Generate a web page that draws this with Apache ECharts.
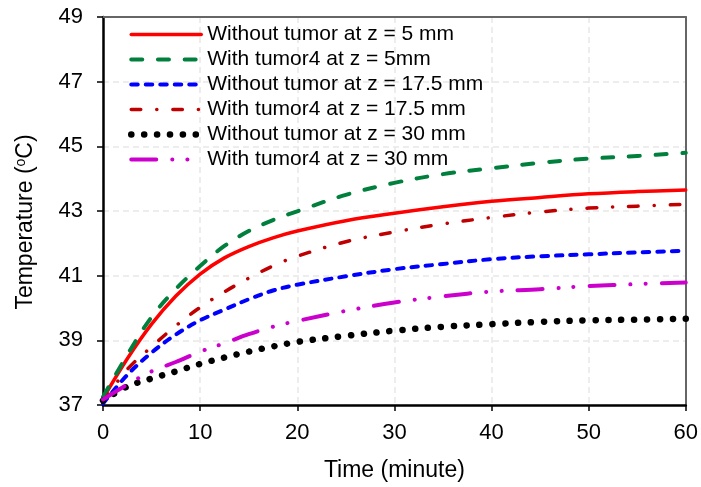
<!DOCTYPE html>
<html>
<head>
<meta charset="utf-8">
<script src="https://cdn.jsdelivr.net/npm/echarts@6/dist/echarts.min.js"></script>
<style>html,body{margin:0;padding:0;background:#fff;}#chart{width:701px;height:487px;}</style>
</head>
<body>
<div id="chart"></div>
<script>
var times = [0, 2.5, 5, 7.5, 10, 12.5, 15, 17.5, 20, 25, 30, 35, 40, 45, 50, 55, 60];
var seriesNames = [
  'Without tumor at z = 5 mm',
  'With tumor4 at z = 5mm',
  'Without tumor at z = 17.5 mm',
  'With tumor4 at z = 17.5 mm',
  'Without tumor at z = 30 mm',
  'With tumor4 at z = 30 mm'
];
var noTumor5 =   [37.2, 38.43, 39.5, 40.37, 41.05, 41.55, 41.9, 42.17, 42.38, 42.7, 42.93, 43.13, 43.3, 43.42, 43.53, 43.6, 43.65];
var tumor5 =     [37.25, 38.55, 39.72, 40.59, 41.3, 41.92, 42.38, 42.72, 42.99, 43.5, 43.87, 44.14, 44.32, 44.49, 44.62, 44.7, 44.8];
var noTumor175 = [37.05, 37.93, 38.62, 39.18, 39.62, 39.95, 40.27, 40.54, 40.72, 40.98, 41.2, 41.36, 41.51, 41.6, 41.66, 41.72, 41.77];
var tumor175 =   [37.1, 38.1, 38.8, 39.45, 40.02, 40.5, 40.92, 41.3, 41.6, 42.05, 42.35, 42.6, 42.8, 42.97, 43.09, 43.15, 43.21];
var noTumor30 =  [37.14, 37.57, 37.82, 38.04, 38.27, 38.47, 38.65, 38.81, 38.95, 39.14, 39.3, 39.42, 39.5, 39.57, 39.62, 39.64, 39.67];
var tumor30 =    [37.17, 37.63, 38.04, 38.33, 38.65, 38.91, 39.19, 39.42, 39.6, 39.91, 40.17, 40.36, 40.51, 40.58, 40.68, 40.74, 40.79];
var xTicks = [0, 10, 20, 30, 40, 50, 60];
var yTicks = [37, 39, 41, 43, 45, 47, 49];

function pairs(vals) { return times.map(function (t, i) { return [t, vals[i]]; }); }

var styles = [
  { color: '#ff0000', width: 3.5, type: 'solid' },
  { color: '#00803c', width: 4, type: [11, 15.7] },
  { color: '#0000ff', width: 4, type: [6.5, 8] },
  { color: '#c00000', width: 3.5, type: [9.5, 16, 0.1, 16] },
  { color: '#000000', width: 6.5, type: [0.1, 12.8] },
  { color: '#cc00cc', width: 4, type: [25, 16, 0.1, 15, 0.1, 16] }
];
var dataSets = [noTumor5, tumor5, noTumor175, tumor175, noTumor30, tumor30];

var series = dataSets.map(function (d, i) {
  return {
    name: seriesNames[i],
    type: 'line',
    data: pairs(d),
    smooth: 0.35,
    symbol: 'none',
    showSymbol: false,
    color: styles[i].color,
    lineStyle: { color: styles[i].color, width: styles[i].width, type: styles[i].type, cap: 'round', join: 'round' },
    z: 3 + i
  };
});

var font = 'Liberation Sans, Arial, sans-serif';
var chart = echarts.init(document.getElementById('chart'), null, { renderer: 'canvas' });
chart.setOption({
  animation: false,
  backgroundColor: '#ffffff',
  grid: { left: 103, right: 9, top: 17, bottom: 78, show: false },
  legend: {
    orient: 'vertical', left: 128, top: 24, padding: 0,
    itemWidth: 70, itemHeight: 20, itemGap: 4,
    data: seriesNames,
    itemStyle: { opacity: 0 },
    lineStyle: { width: 'inherit', type: 'inherit', cap: 'round' },
    textStyle: { fontFamily: font, fontSize: 21, color: '#000', lineHeight: 20, padding: [0, 0, 0, 1] }
  },
  xAxis: [{
    type: 'value', min: 0, max: 60, interval: 10,
    name: 'Time (minute)', nameLocation: 'middle', nameGap: 54,
    nameTextStyle: { fontFamily: font, fontSize: 23, color: '#000' },
    axisLine: { show: true, lineStyle: { color: '#000', width: 2.5 } },
    axisTick: { show: true, inside: false, length: 6, lineStyle: { color: '#000', width: 1.5 } },
    axisLabel: { fontFamily: font, fontSize: 22, color: '#000', margin: 17,
      formatter: function (v) { return xTicks.indexOf(v) >= 0 ? String(v) : ''; } },
    splitLine: { show: true, lineStyle: { color: '#e8e8e8', type: [6, 4], width: 1.5 } },
    z: 2
  }, {
    type: 'value', position: 'top', min: 0, max: 60, interval: 10,
    axisLine: { show: true, onZero: false, lineStyle: { color: '#666666', width: 2 } },
    axisTick: { show: false }, axisLabel: { show: false }, splitLine: { show: false }, z: 2
  }],
  yAxis: [{
    type: 'value', min: 37, max: 49, interval: 2,
    name: '{a|Temperature (}{s|o}{a|C)}', nameLocation: 'middle', nameGap: 66, nameRotate: 90,
    nameTextStyle: { fontFamily: font, fontSize: 23, color: '#000', padding: [0, 22, 0, 0],
      rich: { a: { fontFamily: font, fontSize: 23, color: '#000' }, s: { fontFamily: font, fontSize: 14, color: '#000', verticalAlign: 'top', padding: [0, 0, 8, 0] } } },
    axisLine: { show: true, lineStyle: { color: '#000', width: 2.5 } },
    axisTick: { show: true, inside: false, length: 6, lineStyle: { color: '#000', width: 1.5 } },
    axisLabel: { fontFamily: font, fontSize: 22, color: '#000', margin: 20,
      formatter: function (v) { return yTicks.indexOf(v) >= 0 ? String(v) : ''; } },
    splitLine: { show: true, lineStyle: { color: '#e8e8e8', type: [6, 4], width: 1.5 } },
    z: 2
  }, {
    type: 'value', position: 'right', min: 37, max: 49, interval: 2,
    axisLine: { show: true, onZero: false, lineStyle: { color: '#666666', width: 2 } },
    axisTick: { show: false }, axisLabel: { show: false }, splitLine: { show: false }, z: 2
  }],
  series: series
});
</script>
</body>
</html>
